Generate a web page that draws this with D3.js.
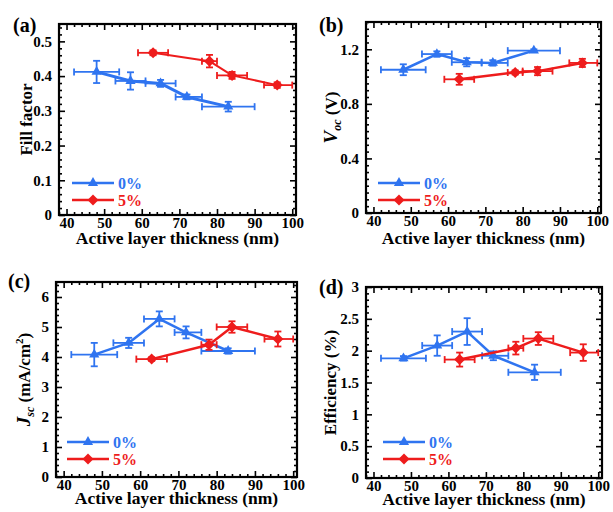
<!DOCTYPE html>
<html><head><meta charset="utf-8">
<script src="https://cdn.jsdelivr.net/npm/d3@7"></script>
<style>
html,body{margin:0;padding:0;background:#fff;}
svg text{font-family:"Liberation Serif","Times New Roman",serif;font-weight:bold;}
</style></head>
<body><svg id="c" width="613" height="512"></svg>
<script>
// ---- data ----
const thickness0 = [48, 57, 65, 72, 83];
const thickLo0 = [42, 53, 61, 69, 76];
const thickHi0 = [54, 61, 69, 76, 90];
const thickness5 = [63, 78, 84, 96];
const thickLo5 = [59, 76, 80, 92.5];
const thickHi5 = [67, 80, 88, 100];

const ff0 = [0.412, 0.386, 0.379, 0.340, 0.312];
const ffErr0 = [0.032, 0.025, 0.010, 0.007, 0.014];
const ff5 = [0.467, 0.443, 0.402, 0.374];
const ffErr5 = [0.007, 0.018, 0.010, 0.008];

const voc0 = [1.05, 1.165, 1.105, 1.10, 1.19];
const vocErr0 = [0.04, 0.02, 0.03, 0.02, 0.01];
const voc5 = [0.98, 1.03, 1.04, 1.10];
const vocErr5 = [0.04, 0.015, 0.03, 0.03];

const jsc0 = [4.08, 4.47, 5.27, 4.82, 4.20];
const jscErr0 = [0.39, 0.17, 0.25, 0.20, 0.09];
const jsc5 = [3.93, 4.41, 5.00, 4.60];
const jscErr5 = [0.06, 0.17, 0.19, 0.25];

const eff0 = [1.88, 2.08, 2.30, 1.92, 1.66];
const effErr0 = [0.035, 0.16, 0.21, 0.07, 0.12];
const eff5 = [1.86, 2.04, 2.19, 1.97];
const effErr5 = [0.11, 0.10, 0.10, 0.13];

const seriesNames = ["0%", "5%"];
const xTicks = [40, 50, 60, 70, 80, 90, 100];
const xTitle = "Active layer thickness (nm)";

const BLUE = "#2f74f0", RED = "#ee1c1c";
const FONT = '"Liberation Serif","Times New Roman",serif';

const svg = d3.select("#c");

const panels = [
  {label:"(a)", lx:13, ly:32, L:59, R:296, T:24, B:215, yDom:[0,0.55], yMaj:[0,0.1,0.2,0.3,0.4,0.5], yMinStep:0.02,
   fmt:d=>d===0?"0":d.toFixed(1), y0:ff0, e0:ffErr0, y5:ff5, e5:ffErr5, yt:"ff", ytx:26, legX:72, legY:183, xtY:244, bw:3, rw:2},
  {label:"(b)", lx:319, ly:32, L:366, R:601, T:22, B:213, yDom:[0,1.4], yMaj:[0,0.4,0.8,1.2], yMinStep:0.05,
   fmt:d=>d===0?"0":d.toFixed(1), y0:voc0, e0:vocErr0, y5:voc5, e5:vocErr5, yt:"voc", ytx:331, legX:378, legY:183, xtY:244, bw:2.5, rw:2.5},
  {label:"(c)", lx:8, ly:288, L:56, R:297, T:282, B:477, yDom:[0,6.5], yMaj:[0,1,2,3,4,5,6], yMinStep:0.2,
   fmt:d=>String(d), y0:jsc0, e0:jscErr0, y5:jsc5, e5:jscErr5, yt:"jsc", ytx:24, legX:67, legY:442, xtY:504, bw:2.5, rw:2.5},
  {label:"(d)", lx:319, ly:294, L:366, R:602, T:287, B:478, yDom:[0,3], yMaj:[0,0.5,1,1.5,2,2.5,3], yMinStep:0.1,
   fmt:d=>String(d), y0:eff0, e0:effErr0, y5:eff5, e5:effErr5, yt:"eff", ytx:330, legX:383, legY:442, xtY:505, bw:2.5, rw:2.5}
];

function range(a, b, s){ const out=[]; for(let v=a; v<=b+1e-9; v+=s) out.push(+v.toFixed(6)); return out; }

function triangle(g, x, y, s, color){
  g.append("path").attr("d", d3.symbol(d3.symbolTriangle, s)()).attr("transform",`translate(${x},${y})`).attr("fill", color);
}
function diamond(g, x, y, r, color){
  g.append("path").attr("d", `M0,${-r}L${r},0L0,${r}L${-r},0Z`).attr("transform",`translate(${x},${y})`).attr("fill", color);
}

panels.forEach(p => {
  const x = d3.scaleLinear().domain([38, 101]).range([p.L, p.R]);
  const y = d3.scaleLinear().domain(p.yDom).range([p.B, p.T]);
  const g = svg.append("g");

  const xMinor = range(38, 100, 2).filter(v => !xTicks.includes(v));
  const yMinor = range(0, p.yDom[1], p.yMinStep).filter(v => !p.yMaj.some(m => Math.abs(m - v) < 1e-6));

  // bottom axis
  const bottom = g.append("g").attr("transform",`translate(0,${p.B})`)
    .call(d3.axisBottom(x).tickValues(xTicks).tickSizeInner(-6).tickSizeOuter(0).tickPadding(2).tickFormat(d3.format("d")));
  g.append("g").attr("transform",`translate(0,${p.B})`).call(d3.axisBottom(x).tickValues(xMinor).tickSizeInner(-3).tickSizeOuter(0).tickFormat(""));
  // top axis
  g.append("g").attr("transform",`translate(0,${p.T})`).call(d3.axisTop(x).tickValues(xTicks).tickSizeInner(-6).tickSizeOuter(0).tickFormat(""));
  g.append("g").attr("transform",`translate(0,${p.T})`).call(d3.axisTop(x).tickValues(xMinor).tickSizeInner(-3).tickSizeOuter(0).tickFormat(""));
  // left axis
  g.append("g").attr("transform",`translate(${p.L},0)`)
    .call(d3.axisLeft(y).tickValues(p.yMaj).tickSizeInner(-6).tickSizeOuter(0).tickPadding(7).tickFormat(p.fmt));
  g.append("g").attr("transform",`translate(${p.L},0)`).call(d3.axisLeft(y).tickValues(yMinor).tickSizeInner(-3).tickSizeOuter(0).tickFormat(""));
  // right axis
  g.append("g").attr("transform",`translate(${p.R},0)`).call(d3.axisRight(y).tickValues(p.yMaj).tickSizeInner(-6).tickSizeOuter(0).tickFormat(""));
  g.append("g").attr("transform",`translate(${p.R},0)`).call(d3.axisRight(y).tickValues(yMinor).tickSizeInner(-3).tickSizeOuter(0).tickFormat(""));

  g.selectAll(".domain").remove();
  g.selectAll("g").attr("font-family", null);
  g.selectAll(".tick line").attr("stroke","#000").attr("stroke-width",1.6);
  g.selectAll(".tick text").attr("font-size",15).attr("fill","#000")
    .style("font-family",FONT).style("font-weight","bold");

  // frame
  g.append("rect").attr("x",p.L).attr("y",p.T).attr("width",p.R-p.L).attr("height",p.B-p.T)
    .attr("fill","none").attr("stroke","#000").attr("stroke-width",2.2);

  // series
  const s0 = thickness0.map((t,i)=>({x:t, lo:thickLo0[i], hi:thickHi0[i], y:p.y0[i], e:p.e0[i]}));
  const s5 = thickness5.map((t,i)=>({x:t, lo:thickLo5[i], hi:thickHi5[i], y:p.y5[i], e:p.e5[i]}));
  const line = d3.line().x(d=>x(d.x)).y(d=>y(d.y));

  function drawSeries(data, color, lw, marker){
    const sg = g.append("g");
    sg.append("path").datum(data).attr("d", line).attr("fill","none").attr("stroke",color).attr("stroke-width",lw).attr("stroke-linejoin","round");
    data.forEach(d => {
      const cx = x(d.x), cy = y(d.y);
      sg.append("line").attr("x1",x(d.lo)).attr("x2",x(d.hi)).attr("y1",cy).attr("y2",cy).attr("stroke",color).attr("stroke-width",1.8);
      [d.lo, d.hi].forEach(v => sg.append("line").attr("x1",x(v)).attr("x2",x(v)).attr("y1",cy-3.5).attr("y2",cy+3.5).attr("stroke",color).attr("stroke-width",1.8));
      sg.append("line").attr("x1",cx).attr("x2",cx).attr("y1",y(d.y-d.e)).attr("y2",y(d.y+d.e)).attr("stroke",color).attr("stroke-width",1.8);
      [d.y-d.e, d.y+d.e].forEach(v => sg.append("line").attr("x1",cx-3.5).attr("x2",cx+3.5).attr("y1",y(v)).attr("y2",y(v)).attr("stroke",color).attr("stroke-width",1.8));
      if (marker === "tri") triangle(sg, cx, cy, 45, color); else diamond(sg, cx, cy, 5.5, color);
    });
  }
  drawSeries(s0, BLUE, p.bw, "tri");
  drawSeries(s5, RED, p.rw, "dia");

  // legend
  const lg = g.append("g");
  [[BLUE,"tri",seriesNames[0],p.legY],[RED,"dia",seriesNames[1],p.legY+17]].forEach(([c,m,t,ly])=>{
    lg.append("line").attr("x1",p.legX).attr("x2",p.legX+42).attr("y1",ly).attr("y2",ly).attr("stroke",c).attr("stroke-width",2.5);
    if (m==="tri") triangle(lg, p.legX+21, ly, 45, c); else diamond(lg, p.legX+21, ly, 5.5, c);
    lg.append("text").attr("x",p.legX+46).attr("y",ly+5.5).attr("font-size",16).attr("fill",c).text(t);
  });

  // panel label
  g.append("text").attr("x",p.lx).attr("y",p.ly).attr("font-size",20).attr("fill","#000").text(p.label);

  // x title
  g.append("text").attr("x",(p.L+p.R)/2).attr("y",p.xtY).attr("text-anchor","middle").attr("font-size",17.5).attr("fill","#000").text(xTitle);

  // y title
  const cy = (p.T+p.B)/2;
  const yt = g.append("text").attr("transform",`translate(${p.ytx},${cy}) rotate(-90)`).attr("text-anchor","middle")
    .attr("font-size",17).attr("fill","#000").attr("dy","0.35em");
  if (p.yt==="ff") yt.text("Fill factor");
  if (p.yt==="eff") yt.text("Efficiency (%)");
  if (p.yt==="voc"){
    yt.append("tspan").attr("font-style","italic").attr("font-size",19).text("V");
    yt.append("tspan").attr("font-style","italic").attr("font-size",12).attr("dy","4").text("oc");
    yt.append("tspan").attr("dy","-4").text(" (V)");
  }
  if (p.yt==="jsc"){
    yt.append("tspan").attr("font-style","italic").attr("font-size",19).text("J");
    yt.append("tspan").attr("font-style","italic").attr("font-size",12).attr("dy","4").text("sc");
    yt.append("tspan").attr("dy","-4").text(" (mA/cm");
    yt.append("tspan").attr("font-size",11).attr("dy","-7").text("2");
    yt.append("tspan").attr("dy","7").text(")");
  }
});
</script></body></html>
